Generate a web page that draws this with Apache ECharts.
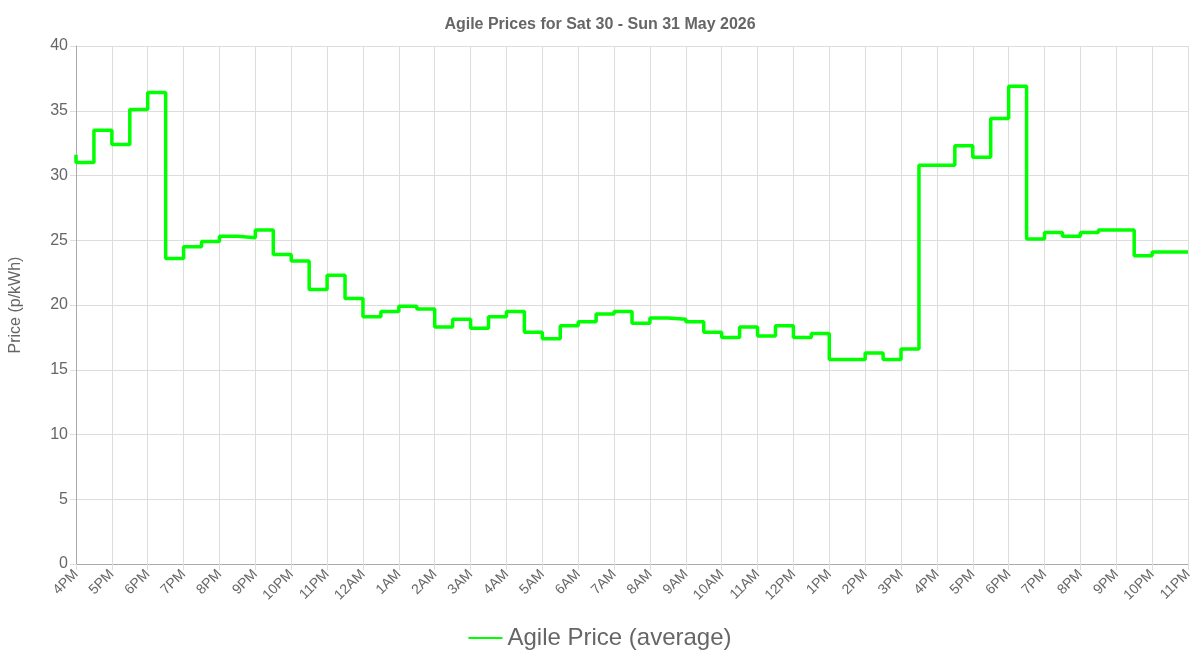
<!DOCTYPE html>
<html><head><meta charset="utf-8">
<script src="https://cdn.jsdelivr.net/npm/echarts@6/dist/echarts.min.js"></script>
<style>html,body{margin:0;padding:0;}#c{width:1200px;height:667px;}</style>
</head><body><div id="c"></div>
<script>
const categories = ['4PM','4:30PM','5PM','5:30PM','6PM','6:30PM','7PM','7:30PM','8PM','8:30PM','9PM','9:30PM','10PM','10:30PM','11PM','11:30PM',
'12AM','12:30AM','1AM','1:30AM','2AM','2:30AM','3AM','3:30AM','4AM','4:30AM','5AM','5:30AM','6AM','6:30AM','7AM','7:30AM','8AM','8:30AM','9AM','9:30AM','10AM','10:30AM','11AM','11:30AM',
'12PM','12:30PM','1PM','1:30PM','2PM','2:30PM','3PM','3:30PM','4PM','4:30PM','5PM','5:30PM','6PM','6:30PM','7PM','7:30PM','8PM','8:30PM','9PM','9:30PM','10PM','10:30PM','11PM'];
const prices = [31.6,31.0,33.5,32.4,35.1,36.4,23.6,24.5,24.9,25.3,25.2,25.8,23.9,23.4,21.2,22.3,
20.5,19.1,19.5,19.9,19.7,18.3,18.9,18.2,19.1,19.5,17.9,17.4,18.4,18.7,19.3,19.5,18.6,19.0,18.9,18.7,17.9,17.5,18.3,17.6,
18.4,17.5,17.8,15.8,15.8,16.3,15.8,16.6,30.8,30.8,32.3,31.4,34.4,36.9,25.1,25.6,25.3,25.6,25.8,25.8,23.8,24.1,24.1];
const chart = echarts.init(document.getElementById('c'));
chart.setOption({
  animation:false,
  title:{text:'Agile Prices for Sat 30 - Sun 31 May 2026',left:'center',top:12,textStyle:{fontFamily:'Liberation Sans',fontSize:16,fontWeight:'bold',color:'#666'}},
  legend:{bottom:12,left:'center',itemWidth:34,itemHeight:2,icon:'rect',textStyle:{fontFamily:'Liberation Sans',fontSize:24,color:'#666'},data:['Agile Price (average)']},
  grid:{left:69,right:12,top:46,bottom:103},
  xAxis:{type:'category',data:categories,boundaryGap:false,
    axisLine:{lineStyle:{color:'#aaa'}},
    axisTick:{interval:1,length:6,lineStyle:{color:'#ddd'}},
    splitLine:{show:true,interval:1,lineStyle:{color:'#ddd'}},
    axisLabel:{interval:1,rotate:45,fontFamily:'Liberation Sans',fontSize:14,color:'#666',margin:8}},
  yAxis:{type:'value',min:0,max:40,interval:5,name:'Price (p/kWh)',nameLocation:'middle',nameGap:52,
    nameTextStyle:{fontFamily:'Liberation Sans',fontSize:16,color:'#666'},
    axisLine:{show:true,lineStyle:{color:'#aaa'}},axisTick:{show:true,length:6,lineStyle:{color:'#ddd'}},
    splitLine:{lineStyle:{color:'#ddd'}},
    axisLabel:{fontFamily:'Liberation Sans',fontSize:16,color:'#666'}},
  series:[{name:'Agile Price (average)',type:'line',step:'start',data:prices,showSymbol:false,
    lineStyle:{color:'#00ff00',width:3.5},itemStyle:{color:'#00ff00'}}]
});
</script></body></html>
